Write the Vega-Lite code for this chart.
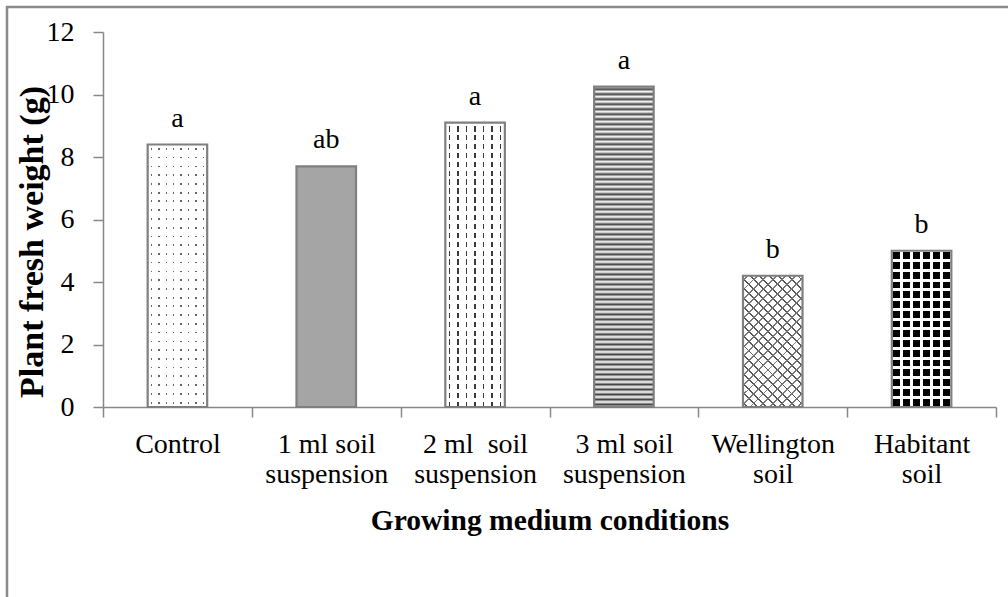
{
  "$schema": "https://vega.github.io/schema/vega-lite/v6.json",
  "width": 1001,
  "height": 590,
  "autosize": {"type": "none"},
  "padding": {"left": 7, "top": 7, "right": 0, "bottom": 0},
  "background": "white",
  "config": {
    "font": "Liberation Serif",
    "view": {"stroke": "#8a8a8a", "strokeWidth": 2.5, "strokeDash": [1001, 1591, 590]}
  },
  "data": {
    "values": [
      {"condition": "Control", "weight": 8.4, "group": "a"},
      {"condition": "1 ml soil suspension", "weight": 7.7, "group": "ab"},
      {"condition": "2 ml\u00a0 soil suspension", "weight": 9.1, "group": "a"},
      {"condition": "3 ml soil suspension", "weight": 10.25, "group": "a"},
      {"condition": "Wellington soil", "weight": 4.2, "group": "b"},
      {"condition": "Habitant soil", "weight": 5.0, "group": "b"}
    ]
  },
  "encoding": {
    "x": {
      "field": "condition",
      "type": "nominal",
      "sort": null,
      "scale": {
        "domain": ["Control", "1 ml soil suspension", "2 ml\u00a0 soil suspension", "3 ml soil suspension", "Wellington soil", "Habitant soil"],
        "range": [96, 989],
        "paddingInner": 0,
        "paddingOuter": 0
      },
      "axis": {
        "title": "Growing medium conditions",
        "titleFontSize": 29.5,
        "titleFontWeight": "bold",
        "titleColor": "#000",
        "titleY": 122,
        "titleBaseline": "alphabetic",
        "labelFontSize": 28,
        "labelColor": "#000",
        "labelPadding": 13,
        "labelLineHeight": 30,
        "labelAngle": 0,
        "labelOverlap": false,
        "labelLimit": 400,
        "labelExpr": "datum.label == 'Control' ? datum.label : [slice(datum.label, 0, lastindexof(datum.label, ' ')), slice(datum.label, lastindexof(datum.label, ' ') + 1)]",
        "tickBand": "extent",
        "tickSize": 10,
        "tickColor": "#888",
        "tickWidth": 1.5,
        "domainColor": "#888",
        "domainWidth": 1.5,
        "offset": -190,
        "grid": false
      }
    },
    "y": {
      "field": "weight",
      "type": "quantitative",
      "scale": {"domain": [0, 12], "range": [400, 25], "nice": false, "zero": true},
      "axis": {
        "title": "Plant fresh weight (g)",
        "titleFontSize": 34,
        "titleFontWeight": "bold",
        "titleColor": "#000",
        "titleX": -71,
        "titleY": 234.5,
        "titleBaseline": "middle",
        "values": [0, 2, 4, 6, 8, 10, 12],
        "labelFontSize": 28,
        "labelColor": "#000",
        "labelPadding": 19,
        "tickSize": 10,
        "tickColor": "#888",
        "tickWidth": 1.5,
        "domainColor": "#888",
        "domainWidth": 1.5,
        "offset": -96,
        "grid": false
      }
    }
  },
  "layer": [
    {
      "transform": [{"filter": "datum.condition === 'Control'"}],
      "mark": {"type": "bar", "width": {"band": 0.4}, "fill": {"gradient": "linear", "x1": 0, "y1": 0, "x2": 1, "y2": 0, "stops": [
        {"offset": 0, "color": "#fff"},
        {"offset": 0.05, "color": "#fff"}, {"offset": 0.05, "color": "#666"}, {"offset": 0.075, "color": "#666"}, {"offset": 0.075, "color": "#fff"},
        {"offset": 0.175, "color": "#fff"}, {"offset": 0.175, "color": "#666"}, {"offset": 0.2, "color": "#666"}, {"offset": 0.2, "color": "#fff"},
        {"offset": 0.3, "color": "#fff"}, {"offset": 0.3, "color": "#666"}, {"offset": 0.325, "color": "#666"}, {"offset": 0.325, "color": "#fff"},
        {"offset": 0.425, "color": "#fff"}, {"offset": 0.425, "color": "#666"}, {"offset": 0.45, "color": "#666"}, {"offset": 0.45, "color": "#fff"},
        {"offset": 0.55, "color": "#fff"}, {"offset": 0.55, "color": "#666"}, {"offset": 0.575, "color": "#666"}, {"offset": 0.575, "color": "#fff"},
        {"offset": 0.675, "color": "#fff"}, {"offset": 0.675, "color": "#666"}, {"offset": 0.7, "color": "#666"}, {"offset": 0.7, "color": "#fff"},
        {"offset": 0.8, "color": "#fff"}, {"offset": 0.8, "color": "#666"}, {"offset": 0.825, "color": "#666"}, {"offset": 0.825, "color": "#fff"},
        {"offset": 0.925, "color": "#fff"}, {"offset": 0.925, "color": "#666"}, {"offset": 0.95, "color": "#666"}, {"offset": 0.95, "color": "#fff"},
        {"offset": 1, "color": "#fff"}
      ]}}
    },
    {
      "transform": [{"filter": "datum.condition === 'Control'"}],
      "mark": {"type": "bar", "width": {"band": 0.4}, "fill": {"gradient": "linear", "x1": 0, "y1": 0, "x2": 0, "y2": 1, "stops": [
        {"offset": 0, "color": "#fff"},
        {"offset": 0.01333, "color": "#fff"}, {"offset": 0.01333, "color": "#fff0"}, {"offset": 0.02, "color": "#fff0"}, {"offset": 0.02, "color": "#fff"},
        {"offset": 0.04667, "color": "#fff"}, {"offset": 0.04667, "color": "#fff0"}, {"offset": 0.05333, "color": "#fff0"}, {"offset": 0.05333, "color": "#fff"},
        {"offset": 0.08, "color": "#fff"}, {"offset": 0.08, "color": "#fff0"}, {"offset": 0.08667, "color": "#fff0"}, {"offset": 0.08667, "color": "#fff"},
        {"offset": 0.11333, "color": "#fff"}, {"offset": 0.11333, "color": "#fff0"}, {"offset": 0.12, "color": "#fff0"}, {"offset": 0.12, "color": "#fff"},
        {"offset": 0.14667, "color": "#fff"}, {"offset": 0.14667, "color": "#fff0"}, {"offset": 0.15333, "color": "#fff0"}, {"offset": 0.15333, "color": "#fff"},
        {"offset": 0.18, "color": "#fff"}, {"offset": 0.18, "color": "#fff0"}, {"offset": 0.18667, "color": "#fff0"}, {"offset": 0.18667, "color": "#fff"},
        {"offset": 0.21333, "color": "#fff"}, {"offset": 0.21333, "color": "#fff0"}, {"offset": 0.22, "color": "#fff0"}, {"offset": 0.22, "color": "#fff"},
        {"offset": 0.24667, "color": "#fff"}, {"offset": 0.24667, "color": "#fff0"}, {"offset": 0.25333, "color": "#fff0"}, {"offset": 0.25333, "color": "#fff"},
        {"offset": 0.28, "color": "#fff"}, {"offset": 0.28, "color": "#fff0"}, {"offset": 0.28667, "color": "#fff0"}, {"offset": 0.28667, "color": "#fff"},
        {"offset": 0.31333, "color": "#fff"}, {"offset": 0.31333, "color": "#fff0"}, {"offset": 0.32, "color": "#fff0"}, {"offset": 0.32, "color": "#fff"},
        {"offset": 0.34667, "color": "#fff"}, {"offset": 0.34667, "color": "#fff0"}, {"offset": 0.35333, "color": "#fff0"}, {"offset": 0.35333, "color": "#fff"},
        {"offset": 0.38, "color": "#fff"}, {"offset": 0.38, "color": "#fff0"}, {"offset": 0.38667, "color": "#fff0"}, {"offset": 0.38667, "color": "#fff"},
        {"offset": 0.41333, "color": "#fff"}, {"offset": 0.41333, "color": "#fff0"}, {"offset": 0.42, "color": "#fff0"}, {"offset": 0.42, "color": "#fff"},
        {"offset": 0.44667, "color": "#fff"}, {"offset": 0.44667, "color": "#fff0"}, {"offset": 0.45333, "color": "#fff0"}, {"offset": 0.45333, "color": "#fff"},
        {"offset": 0.48, "color": "#fff"}, {"offset": 0.48, "color": "#fff0"}, {"offset": 0.48667, "color": "#fff0"}, {"offset": 0.48667, "color": "#fff"},
        {"offset": 0.51333, "color": "#fff"}, {"offset": 0.51333, "color": "#fff0"}, {"offset": 0.52, "color": "#fff0"}, {"offset": 0.52, "color": "#fff"},
        {"offset": 0.54667, "color": "#fff"}, {"offset": 0.54667, "color": "#fff0"}, {"offset": 0.55333, "color": "#fff0"}, {"offset": 0.55333, "color": "#fff"},
        {"offset": 0.58, "color": "#fff"}, {"offset": 0.58, "color": "#fff0"}, {"offset": 0.58667, "color": "#fff0"}, {"offset": 0.58667, "color": "#fff"},
        {"offset": 0.61333, "color": "#fff"}, {"offset": 0.61333, "color": "#fff0"}, {"offset": 0.62, "color": "#fff0"}, {"offset": 0.62, "color": "#fff"},
        {"offset": 0.64667, "color": "#fff"}, {"offset": 0.64667, "color": "#fff0"}, {"offset": 0.65333, "color": "#fff0"}, {"offset": 0.65333, "color": "#fff"},
        {"offset": 0.68, "color": "#fff"}, {"offset": 0.68, "color": "#fff0"}, {"offset": 0.68667, "color": "#fff0"}, {"offset": 0.68667, "color": "#fff"},
        {"offset": 0.71333, "color": "#fff"}, {"offset": 0.71333, "color": "#fff0"}, {"offset": 0.72, "color": "#fff0"}, {"offset": 0.72, "color": "#fff"},
        {"offset": 0.74667, "color": "#fff"}, {"offset": 0.74667, "color": "#fff0"}, {"offset": 0.75333, "color": "#fff0"}, {"offset": 0.75333, "color": "#fff"},
        {"offset": 0.78, "color": "#fff"}, {"offset": 0.78, "color": "#fff0"}, {"offset": 0.78667, "color": "#fff0"}, {"offset": 0.78667, "color": "#fff"},
        {"offset": 0.81333, "color": "#fff"}, {"offset": 0.81333, "color": "#fff0"}, {"offset": 0.82, "color": "#fff0"}, {"offset": 0.82, "color": "#fff"},
        {"offset": 0.84667, "color": "#fff"}, {"offset": 0.84667, "color": "#fff0"}, {"offset": 0.85333, "color": "#fff0"}, {"offset": 0.85333, "color": "#fff"},
        {"offset": 0.88, "color": "#fff"}, {"offset": 0.88, "color": "#fff0"}, {"offset": 0.88667, "color": "#fff0"}, {"offset": 0.88667, "color": "#fff"},
        {"offset": 0.91333, "color": "#fff"}, {"offset": 0.91333, "color": "#fff0"}, {"offset": 0.92, "color": "#fff0"}, {"offset": 0.92, "color": "#fff"},
        {"offset": 0.94667, "color": "#fff"}, {"offset": 0.94667, "color": "#fff0"}, {"offset": 0.95333, "color": "#fff0"}, {"offset": 0.95333, "color": "#fff"},
        {"offset": 0.98, "color": "#fff"}, {"offset": 0.98, "color": "#fff0"}, {"offset": 0.98667, "color": "#fff0"}, {"offset": 0.98667, "color": "#fff"},
        {"offset": 1, "color": "#fff"}
      ]}}
    },
    {
      "transform": [{"filter": "datum.condition === '1 ml soil suspension'"}],
      "mark": {"type": "bar", "width": {"band": 0.4}, "fill": "#a5a5a5"}
    },
    {
      "transform": [{"filter": "indexof(datum.condition, '2 ml') === 0"}],
      "mark": {"type": "bar", "width": {"band": 0.4}, "fill": {"gradient": "linear", "x1": 0, "y1": 0, "x2": 1, "y2": 0, "stops": [
        {"offset": 0, "color": "#fff"},
        {"offset": 0.0564, "color": "#fff"}, {"offset": 0.0564, "color": "#3a3a3a"}, {"offset": 0.0864, "color": "#3a3a3a"}, {"offset": 0.0864, "color": "#fff"},
        {"offset": 0.1993, "color": "#fff"}, {"offset": 0.1993, "color": "#3a3a3a"}, {"offset": 0.2293, "color": "#3a3a3a"}, {"offset": 0.2293, "color": "#fff"},
        {"offset": 0.3421, "color": "#fff"}, {"offset": 0.3421, "color": "#3a3a3a"}, {"offset": 0.3721, "color": "#3a3a3a"}, {"offset": 0.3721, "color": "#fff"},
        {"offset": 0.485, "color": "#fff"}, {"offset": 0.485, "color": "#3a3a3a"}, {"offset": 0.515, "color": "#3a3a3a"}, {"offset": 0.515, "color": "#fff"},
        {"offset": 0.6279, "color": "#fff"}, {"offset": 0.6279, "color": "#3a3a3a"}, {"offset": 0.6579, "color": "#3a3a3a"}, {"offset": 0.6579, "color": "#fff"},
        {"offset": 0.7707, "color": "#fff"}, {"offset": 0.7707, "color": "#3a3a3a"}, {"offset": 0.8007, "color": "#3a3a3a"}, {"offset": 0.8007, "color": "#fff"},
        {"offset": 0.9136, "color": "#fff"}, {"offset": 0.9136, "color": "#3a3a3a"}, {"offset": 0.9436, "color": "#3a3a3a"}, {"offset": 0.9436, "color": "#fff"},
        {"offset": 1, "color": "#fff"}
      ]}}
    },
    {
      "transform": [{"filter": "indexof(datum.condition, '2 ml') === 0"}],
      "mark": {"type": "bar", "width": {"band": 0.4}, "fill": {"gradient": "linear", "x1": 0, "y1": 0, "x2": 0, "y2": 1, "stops": [
        {"offset": 0, "color": "#fff"}, {"offset": 0.0125, "color": "#fff"}, {"offset": 0.0125, "color": "#fff0"},
        {"offset": 0.03125, "color": "#fff0"}, {"offset": 0.03125, "color": "#fff"}, {"offset": 0.04375, "color": "#fff"}, {"offset": 0.04375, "color": "#fff0"},
        {"offset": 0.0625, "color": "#fff0"}, {"offset": 0.0625, "color": "#fff"}, {"offset": 0.075, "color": "#fff"}, {"offset": 0.075, "color": "#fff0"},
        {"offset": 0.09375, "color": "#fff0"}, {"offset": 0.09375, "color": "#fff"}, {"offset": 0.10625, "color": "#fff"}, {"offset": 0.10625, "color": "#fff0"},
        {"offset": 0.125, "color": "#fff0"}, {"offset": 0.125, "color": "#fff"}, {"offset": 0.1375, "color": "#fff"}, {"offset": 0.1375, "color": "#fff0"},
        {"offset": 0.15625, "color": "#fff0"}, {"offset": 0.15625, "color": "#fff"}, {"offset": 0.16875, "color": "#fff"}, {"offset": 0.16875, "color": "#fff0"},
        {"offset": 0.1875, "color": "#fff0"}, {"offset": 0.1875, "color": "#fff"}, {"offset": 0.2, "color": "#fff"}, {"offset": 0.2, "color": "#fff0"},
        {"offset": 0.21875, "color": "#fff0"}, {"offset": 0.21875, "color": "#fff"}, {"offset": 0.23125, "color": "#fff"}, {"offset": 0.23125, "color": "#fff0"},
        {"offset": 0.25, "color": "#fff0"}, {"offset": 0.25, "color": "#fff"}, {"offset": 0.2625, "color": "#fff"}, {"offset": 0.2625, "color": "#fff0"},
        {"offset": 0.28125, "color": "#fff0"}, {"offset": 0.28125, "color": "#fff"}, {"offset": 0.29375, "color": "#fff"}, {"offset": 0.29375, "color": "#fff0"},
        {"offset": 0.3125, "color": "#fff0"}, {"offset": 0.3125, "color": "#fff"}, {"offset": 0.325, "color": "#fff"}, {"offset": 0.325, "color": "#fff0"},
        {"offset": 0.34375, "color": "#fff0"}, {"offset": 0.34375, "color": "#fff"}, {"offset": 0.35625, "color": "#fff"}, {"offset": 0.35625, "color": "#fff0"},
        {"offset": 0.375, "color": "#fff0"}, {"offset": 0.375, "color": "#fff"}, {"offset": 0.3875, "color": "#fff"}, {"offset": 0.3875, "color": "#fff0"},
        {"offset": 0.40625, "color": "#fff0"}, {"offset": 0.40625, "color": "#fff"}, {"offset": 0.41875, "color": "#fff"}, {"offset": 0.41875, "color": "#fff0"},
        {"offset": 0.4375, "color": "#fff0"}, {"offset": 0.4375, "color": "#fff"}, {"offset": 0.45, "color": "#fff"}, {"offset": 0.45, "color": "#fff0"},
        {"offset": 0.46875, "color": "#fff0"}, {"offset": 0.46875, "color": "#fff"}, {"offset": 0.48125, "color": "#fff"}, {"offset": 0.48125, "color": "#fff0"},
        {"offset": 0.5, "color": "#fff0"}, {"offset": 0.5, "color": "#fff"}, {"offset": 0.5125, "color": "#fff"}, {"offset": 0.5125, "color": "#fff0"},
        {"offset": 0.53125, "color": "#fff0"}, {"offset": 0.53125, "color": "#fff"}, {"offset": 0.54375, "color": "#fff"}, {"offset": 0.54375, "color": "#fff0"},
        {"offset": 0.5625, "color": "#fff0"}, {"offset": 0.5625, "color": "#fff"}, {"offset": 0.575, "color": "#fff"}, {"offset": 0.575, "color": "#fff0"},
        {"offset": 0.59375, "color": "#fff0"}, {"offset": 0.59375, "color": "#fff"}, {"offset": 0.60625, "color": "#fff"}, {"offset": 0.60625, "color": "#fff0"},
        {"offset": 0.625, "color": "#fff0"}, {"offset": 0.625, "color": "#fff"}, {"offset": 0.6375, "color": "#fff"}, {"offset": 0.6375, "color": "#fff0"},
        {"offset": 0.65625, "color": "#fff0"}, {"offset": 0.65625, "color": "#fff"}, {"offset": 0.66875, "color": "#fff"}, {"offset": 0.66875, "color": "#fff0"},
        {"offset": 0.6875, "color": "#fff0"}, {"offset": 0.6875, "color": "#fff"}, {"offset": 0.7, "color": "#fff"}, {"offset": 0.7, "color": "#fff0"},
        {"offset": 0.71875, "color": "#fff0"}, {"offset": 0.71875, "color": "#fff"}, {"offset": 0.73125, "color": "#fff"}, {"offset": 0.73125, "color": "#fff0"},
        {"offset": 0.75, "color": "#fff0"}, {"offset": 0.75, "color": "#fff"}, {"offset": 0.7625, "color": "#fff"}, {"offset": 0.7625, "color": "#fff0"},
        {"offset": 0.78125, "color": "#fff0"}, {"offset": 0.78125, "color": "#fff"}, {"offset": 0.79375, "color": "#fff"}, {"offset": 0.79375, "color": "#fff0"},
        {"offset": 0.8125, "color": "#fff0"}, {"offset": 0.8125, "color": "#fff"}, {"offset": 0.825, "color": "#fff"}, {"offset": 0.825, "color": "#fff0"},
        {"offset": 0.84375, "color": "#fff0"}, {"offset": 0.84375, "color": "#fff"}, {"offset": 0.85625, "color": "#fff"}, {"offset": 0.85625, "color": "#fff0"},
        {"offset": 0.875, "color": "#fff0"}, {"offset": 0.875, "color": "#fff"}, {"offset": 0.8875, "color": "#fff"}, {"offset": 0.8875, "color": "#fff0"},
        {"offset": 0.90625, "color": "#fff0"}, {"offset": 0.90625, "color": "#fff"}, {"offset": 0.91875, "color": "#fff"}, {"offset": 0.91875, "color": "#fff0"},
        {"offset": 0.9375, "color": "#fff0"}, {"offset": 0.9375, "color": "#fff"}, {"offset": 0.95, "color": "#fff"}, {"offset": 0.95, "color": "#fff0"},
        {"offset": 0.96875, "color": "#fff0"}, {"offset": 0.96875, "color": "#fff"}, {"offset": 0.98125, "color": "#fff"}, {"offset": 0.98125, "color": "#fff0"},
        {"offset": 1, "color": "#fff0"}
      ]}}
    },
    {
      "transform": [{"filter": "datum.condition === '3 ml soil suspension'"}],
      "mark": {"type": "bar", "width": {"band": 0.4}, "fill": {"gradient": "linear", "x1": 0, "y1": 0, "x2": 0, "y2": 1, "stops": [
        {"offset": 0, "color": "#fff"}, {"offset": 0.0078, "color": "#444"}, {"offset": 0.0156, "color": "#fff"}, {"offset": 0.0234, "color": "#444"},
        {"offset": 0.0313, "color": "#fff"}, {"offset": 0.0391, "color": "#444"}, {"offset": 0.0469, "color": "#fff"}, {"offset": 0.0547, "color": "#444"},
        {"offset": 0.0625, "color": "#fff"}, {"offset": 0.0703, "color": "#444"}, {"offset": 0.0781, "color": "#fff"}, {"offset": 0.0859, "color": "#444"},
        {"offset": 0.0938, "color": "#fff"}, {"offset": 0.1016, "color": "#444"}, {"offset": 0.1094, "color": "#fff"}, {"offset": 0.1172, "color": "#444"},
        {"offset": 0.125, "color": "#fff"}, {"offset": 0.1328, "color": "#444"}, {"offset": 0.1406, "color": "#fff"}, {"offset": 0.1484, "color": "#444"},
        {"offset": 0.1563, "color": "#fff"}, {"offset": 0.1641, "color": "#444"}, {"offset": 0.1719, "color": "#fff"}, {"offset": 0.1797, "color": "#444"},
        {"offset": 0.1875, "color": "#fff"}, {"offset": 0.1953, "color": "#444"}, {"offset": 0.2031, "color": "#fff"}, {"offset": 0.2109, "color": "#444"},
        {"offset": 0.2188, "color": "#fff"}, {"offset": 0.2266, "color": "#444"}, {"offset": 0.2344, "color": "#fff"}, {"offset": 0.2422, "color": "#444"},
        {"offset": 0.25, "color": "#fff"}, {"offset": 0.2578, "color": "#444"}, {"offset": 0.2656, "color": "#fff"}, {"offset": 0.2734, "color": "#444"},
        {"offset": 0.2813, "color": "#fff"}, {"offset": 0.2891, "color": "#444"}, {"offset": 0.2969, "color": "#fff"}, {"offset": 0.3047, "color": "#444"},
        {"offset": 0.3125, "color": "#fff"}, {"offset": 0.3203, "color": "#444"}, {"offset": 0.3281, "color": "#fff"}, {"offset": 0.3359, "color": "#444"},
        {"offset": 0.3438, "color": "#fff"}, {"offset": 0.3516, "color": "#444"}, {"offset": 0.3594, "color": "#fff"}, {"offset": 0.3672, "color": "#444"},
        {"offset": 0.375, "color": "#fff"}, {"offset": 0.3828, "color": "#444"}, {"offset": 0.3906, "color": "#fff"}, {"offset": 0.3984, "color": "#444"},
        {"offset": 0.4063, "color": "#fff"}, {"offset": 0.4141, "color": "#444"}, {"offset": 0.4219, "color": "#fff"}, {"offset": 0.4297, "color": "#444"},
        {"offset": 0.4375, "color": "#fff"}, {"offset": 0.4453, "color": "#444"}, {"offset": 0.4531, "color": "#fff"}, {"offset": 0.4609, "color": "#444"},
        {"offset": 0.4688, "color": "#fff"}, {"offset": 0.4766, "color": "#444"}, {"offset": 0.4844, "color": "#fff"}, {"offset": 0.4922, "color": "#444"},
        {"offset": 0.5, "color": "#fff"}, {"offset": 0.5078, "color": "#444"}, {"offset": 0.5156, "color": "#fff"}, {"offset": 0.5234, "color": "#444"},
        {"offset": 0.5313, "color": "#fff"}, {"offset": 0.5391, "color": "#444"}, {"offset": 0.5469, "color": "#fff"}, {"offset": 0.5547, "color": "#444"},
        {"offset": 0.5625, "color": "#fff"}, {"offset": 0.5703, "color": "#444"}, {"offset": 0.5781, "color": "#fff"}, {"offset": 0.5859, "color": "#444"},
        {"offset": 0.5938, "color": "#fff"}, {"offset": 0.6016, "color": "#444"}, {"offset": 0.6094, "color": "#fff"}, {"offset": 0.6172, "color": "#444"},
        {"offset": 0.625, "color": "#fff"}, {"offset": 0.6328, "color": "#444"}, {"offset": 0.6406, "color": "#fff"}, {"offset": 0.6484, "color": "#444"},
        {"offset": 0.6563, "color": "#fff"}, {"offset": 0.6641, "color": "#444"}, {"offset": 0.6719, "color": "#fff"}, {"offset": 0.6797, "color": "#444"},
        {"offset": 0.6875, "color": "#fff"}, {"offset": 0.6953, "color": "#444"}, {"offset": 0.7031, "color": "#fff"}, {"offset": 0.7109, "color": "#444"},
        {"offset": 0.7188, "color": "#fff"}, {"offset": 0.7266, "color": "#444"}, {"offset": 0.7344, "color": "#fff"}, {"offset": 0.7422, "color": "#444"},
        {"offset": 0.75, "color": "#fff"}, {"offset": 0.7578, "color": "#444"}, {"offset": 0.7656, "color": "#fff"}, {"offset": 0.7734, "color": "#444"},
        {"offset": 0.7813, "color": "#fff"}, {"offset": 0.7891, "color": "#444"}, {"offset": 0.7969, "color": "#fff"}, {"offset": 0.8047, "color": "#444"},
        {"offset": 0.8125, "color": "#fff"}, {"offset": 0.8203, "color": "#444"}, {"offset": 0.8281, "color": "#fff"}, {"offset": 0.8359, "color": "#444"},
        {"offset": 0.8438, "color": "#fff"}, {"offset": 0.8516, "color": "#444"}, {"offset": 0.8594, "color": "#fff"}, {"offset": 0.8672, "color": "#444"},
        {"offset": 0.875, "color": "#fff"}, {"offset": 0.8828, "color": "#444"}, {"offset": 0.8906, "color": "#fff"}, {"offset": 0.8984, "color": "#444"},
        {"offset": 0.9063, "color": "#fff"}, {"offset": 0.9141, "color": "#444"}, {"offset": 0.9219, "color": "#fff"}, {"offset": 0.9297, "color": "#444"},
        {"offset": 0.9375, "color": "#fff"}, {"offset": 0.9453, "color": "#444"}, {"offset": 0.9531, "color": "#fff"}, {"offset": 0.9609, "color": "#444"},
        {"offset": 0.9688, "color": "#fff"}, {"offset": 0.9766, "color": "#444"}, {"offset": 0.9844, "color": "#fff"}, {"offset": 0.9922, "color": "#444"},
        {"offset": 1, "color": "#fff"}
      ]}}
    },
    {
      "transform": [{"filter": "datum.condition === 'Wellington soil'"}],
      "mark": {"type": "bar", "width": {"band": 0.4}, "fill": {"gradient": "linear", "x1": 1, "y1": 0, "x2": 0.4535, "y2": 1.2056, "stops": [
        {"offset": 0, "color": "#fff"},
        {"offset": 0.02, "color": "#fff"}, {"offset": 0.02, "color": "#555"}, {"offset": 0.03, "color": "#555"}, {"offset": 0.03, "color": "#fff"},
        {"offset": 0.07, "color": "#fff"}, {"offset": 0.07, "color": "#555"}, {"offset": 0.08, "color": "#555"}, {"offset": 0.08, "color": "#fff"},
        {"offset": 0.12, "color": "#fff"}, {"offset": 0.12, "color": "#555"}, {"offset": 0.13, "color": "#555"}, {"offset": 0.13, "color": "#fff"},
        {"offset": 0.17, "color": "#fff"}, {"offset": 0.17, "color": "#555"}, {"offset": 0.18, "color": "#555"}, {"offset": 0.18, "color": "#fff"},
        {"offset": 0.22, "color": "#fff"}, {"offset": 0.22, "color": "#555"}, {"offset": 0.23, "color": "#555"}, {"offset": 0.23, "color": "#fff"},
        {"offset": 0.27, "color": "#fff"}, {"offset": 0.27, "color": "#555"}, {"offset": 0.28, "color": "#555"}, {"offset": 0.28, "color": "#fff"},
        {"offset": 0.32, "color": "#fff"}, {"offset": 0.32, "color": "#555"}, {"offset": 0.33, "color": "#555"}, {"offset": 0.33, "color": "#fff"},
        {"offset": 0.37, "color": "#fff"}, {"offset": 0.37, "color": "#555"}, {"offset": 0.38, "color": "#555"}, {"offset": 0.38, "color": "#fff"},
        {"offset": 0.42, "color": "#fff"}, {"offset": 0.42, "color": "#555"}, {"offset": 0.43, "color": "#555"}, {"offset": 0.43, "color": "#fff"},
        {"offset": 0.47, "color": "#fff"}, {"offset": 0.47, "color": "#555"}, {"offset": 0.48, "color": "#555"}, {"offset": 0.48, "color": "#fff"},
        {"offset": 0.52, "color": "#fff"}, {"offset": 0.52, "color": "#555"}, {"offset": 0.53, "color": "#555"}, {"offset": 0.53, "color": "#fff"},
        {"offset": 0.57, "color": "#fff"}, {"offset": 0.57, "color": "#555"}, {"offset": 0.58, "color": "#555"}, {"offset": 0.58, "color": "#fff"},
        {"offset": 0.62, "color": "#fff"}, {"offset": 0.62, "color": "#555"}, {"offset": 0.63, "color": "#555"}, {"offset": 0.63, "color": "#fff"},
        {"offset": 0.67, "color": "#fff"}, {"offset": 0.67, "color": "#555"}, {"offset": 0.68, "color": "#555"}, {"offset": 0.68, "color": "#fff"},
        {"offset": 0.72, "color": "#fff"}, {"offset": 0.72, "color": "#555"}, {"offset": 0.73, "color": "#555"}, {"offset": 0.73, "color": "#fff"},
        {"offset": 0.77, "color": "#fff"}, {"offset": 0.77, "color": "#555"}, {"offset": 0.78, "color": "#555"}, {"offset": 0.78, "color": "#fff"},
        {"offset": 0.82, "color": "#fff"}, {"offset": 0.82, "color": "#555"}, {"offset": 0.83, "color": "#555"}, {"offset": 0.83, "color": "#fff"},
        {"offset": 0.87, "color": "#fff"}, {"offset": 0.87, "color": "#555"}, {"offset": 0.88, "color": "#555"}, {"offset": 0.88, "color": "#fff"},
        {"offset": 0.92, "color": "#fff"}, {"offset": 0.92, "color": "#555"}, {"offset": 0.93, "color": "#555"}, {"offset": 0.93, "color": "#fff"},
        {"offset": 0.97, "color": "#fff"}, {"offset": 0.97, "color": "#555"}, {"offset": 0.98, "color": "#555"}, {"offset": 0.98, "color": "#fff"},
        {"offset": 1, "color": "#fff"}
      ]}}
    },
    {
      "transform": [{"filter": "datum.condition === 'Wellington soil'"}],
      "mark": {"type": "bar", "width": {"band": 0.4}, "fill": {"gradient": "linear", "x1": 0, "y1": 0, "x2": 0.5465, "y2": 1.2056, "stops": [
        {"offset": 0, "color": "#fff0"},
        {"offset": 0.02, "color": "#fff0"}, {"offset": 0.02, "color": "#777"}, {"offset": 0.03, "color": "#777"}, {"offset": 0.03, "color": "#fff0"},
        {"offset": 0.07, "color": "#fff0"}, {"offset": 0.07, "color": "#777"}, {"offset": 0.08, "color": "#777"}, {"offset": 0.08, "color": "#fff0"},
        {"offset": 0.12, "color": "#fff0"}, {"offset": 0.12, "color": "#777"}, {"offset": 0.13, "color": "#777"}, {"offset": 0.13, "color": "#fff0"},
        {"offset": 0.17, "color": "#fff0"}, {"offset": 0.17, "color": "#777"}, {"offset": 0.18, "color": "#777"}, {"offset": 0.18, "color": "#fff0"},
        {"offset": 0.22, "color": "#fff0"}, {"offset": 0.22, "color": "#777"}, {"offset": 0.23, "color": "#777"}, {"offset": 0.23, "color": "#fff0"},
        {"offset": 0.27, "color": "#fff0"}, {"offset": 0.27, "color": "#777"}, {"offset": 0.28, "color": "#777"}, {"offset": 0.28, "color": "#fff0"},
        {"offset": 0.32, "color": "#fff0"}, {"offset": 0.32, "color": "#777"}, {"offset": 0.33, "color": "#777"}, {"offset": 0.33, "color": "#fff0"},
        {"offset": 0.37, "color": "#fff0"}, {"offset": 0.37, "color": "#777"}, {"offset": 0.38, "color": "#777"}, {"offset": 0.38, "color": "#fff0"},
        {"offset": 0.42, "color": "#fff0"}, {"offset": 0.42, "color": "#777"}, {"offset": 0.43, "color": "#777"}, {"offset": 0.43, "color": "#fff0"},
        {"offset": 0.47, "color": "#fff0"}, {"offset": 0.47, "color": "#777"}, {"offset": 0.48, "color": "#777"}, {"offset": 0.48, "color": "#fff0"},
        {"offset": 0.52, "color": "#fff0"}, {"offset": 0.52, "color": "#777"}, {"offset": 0.53, "color": "#777"}, {"offset": 0.53, "color": "#fff0"},
        {"offset": 0.57, "color": "#fff0"}, {"offset": 0.57, "color": "#777"}, {"offset": 0.58, "color": "#777"}, {"offset": 0.58, "color": "#fff0"},
        {"offset": 0.62, "color": "#fff0"}, {"offset": 0.62, "color": "#777"}, {"offset": 0.63, "color": "#777"}, {"offset": 0.63, "color": "#fff0"},
        {"offset": 0.67, "color": "#fff0"}, {"offset": 0.67, "color": "#777"}, {"offset": 0.68, "color": "#777"}, {"offset": 0.68, "color": "#fff0"},
        {"offset": 0.72, "color": "#fff0"}, {"offset": 0.72, "color": "#777"}, {"offset": 0.73, "color": "#777"}, {"offset": 0.73, "color": "#fff0"},
        {"offset": 0.77, "color": "#fff0"}, {"offset": 0.77, "color": "#777"}, {"offset": 0.78, "color": "#777"}, {"offset": 0.78, "color": "#fff0"},
        {"offset": 0.82, "color": "#fff0"}, {"offset": 0.82, "color": "#777"}, {"offset": 0.83, "color": "#777"}, {"offset": 0.83, "color": "#fff0"},
        {"offset": 0.87, "color": "#fff0"}, {"offset": 0.87, "color": "#777"}, {"offset": 0.88, "color": "#777"}, {"offset": 0.88, "color": "#fff0"},
        {"offset": 0.92, "color": "#fff0"}, {"offset": 0.92, "color": "#777"}, {"offset": 0.93, "color": "#777"}, {"offset": 0.93, "color": "#fff0"},
        {"offset": 0.97, "color": "#fff0"}, {"offset": 0.97, "color": "#777"}, {"offset": 0.98, "color": "#777"}, {"offset": 0.98, "color": "#fff0"},
        {"offset": 1, "color": "#fff0"}
      ]}}
    },
    {
      "transform": [{"filter": "datum.condition === 'Habitant soil'"}],
      "mark": {"type": "bar", "width": {"band": 0.4}, "fill": "#000"}
    },
    {
      "transform": [{"filter": "datum.condition === 'Habitant soil'"}],
      "mark": {"type": "bar", "width": {"band": 0.4}, "fill": {"gradient": "linear", "x1": 0, "y1": 0, "x2": 1, "y2": 0, "stops": [
        {"offset": 0, "color": "#fff"}, {"offset": 0.025, "color": "#fff"}, {"offset": 0.025, "color": "#fff0"},
        {"offset": 0.1417, "color": "#fff0"}, {"offset": 0.1417, "color": "#fff"}, {"offset": 0.1917, "color": "#fff"}, {"offset": 0.1917, "color": "#fff0"},
        {"offset": 0.3083, "color": "#fff0"}, {"offset": 0.3083, "color": "#fff"}, {"offset": 0.3583, "color": "#fff"}, {"offset": 0.3583, "color": "#fff0"},
        {"offset": 0.475, "color": "#fff0"}, {"offset": 0.475, "color": "#fff"}, {"offset": 0.525, "color": "#fff"}, {"offset": 0.525, "color": "#fff0"},
        {"offset": 0.6417, "color": "#fff0"}, {"offset": 0.6417, "color": "#fff"}, {"offset": 0.6917, "color": "#fff"}, {"offset": 0.6917, "color": "#fff0"},
        {"offset": 0.8083, "color": "#fff0"}, {"offset": 0.8083, "color": "#fff"}, {"offset": 0.8583, "color": "#fff"}, {"offset": 0.8583, "color": "#fff0"},
        {"offset": 0.975, "color": "#fff0"}, {"offset": 0.975, "color": "#fff"}, {"offset": 1, "color": "#fff"}
      ]}}
    },
    {
      "transform": [{"filter": "datum.condition === 'Habitant soil'"}],
      "mark": {"type": "bar", "width": {"band": 0.4}, "fill": {"gradient": "linear", "x1": 0, "y1": 0, "x2": 0, "y2": 1, "stops": [
        {"offset": 0, "color": "#fff"}, {"offset": 0.0096, "color": "#fff"}, {"offset": 0.0096, "color": "#fff0"},
        {"offset": 0.0529, "color": "#fff0"}, {"offset": 0.0529, "color": "#fff"}, {"offset": 0.0721, "color": "#fff"}, {"offset": 0.0721, "color": "#fff0"},
        {"offset": 0.1154, "color": "#fff0"}, {"offset": 0.1154, "color": "#fff"}, {"offset": 0.1346, "color": "#fff"}, {"offset": 0.1346, "color": "#fff0"},
        {"offset": 0.1779, "color": "#fff0"}, {"offset": 0.1779, "color": "#fff"}, {"offset": 0.1971, "color": "#fff"}, {"offset": 0.1971, "color": "#fff0"},
        {"offset": 0.2404, "color": "#fff0"}, {"offset": 0.2404, "color": "#fff"}, {"offset": 0.2596, "color": "#fff"}, {"offset": 0.2596, "color": "#fff0"},
        {"offset": 0.3029, "color": "#fff0"}, {"offset": 0.3029, "color": "#fff"}, {"offset": 0.3221, "color": "#fff"}, {"offset": 0.3221, "color": "#fff0"},
        {"offset": 0.3654, "color": "#fff0"}, {"offset": 0.3654, "color": "#fff"}, {"offset": 0.3846, "color": "#fff"}, {"offset": 0.3846, "color": "#fff0"},
        {"offset": 0.4279, "color": "#fff0"}, {"offset": 0.4279, "color": "#fff"}, {"offset": 0.4471, "color": "#fff"}, {"offset": 0.4471, "color": "#fff0"},
        {"offset": 0.4904, "color": "#fff0"}, {"offset": 0.4904, "color": "#fff"}, {"offset": 0.5096, "color": "#fff"}, {"offset": 0.5096, "color": "#fff0"},
        {"offset": 0.5529, "color": "#fff0"}, {"offset": 0.5529, "color": "#fff"}, {"offset": 0.5721, "color": "#fff"}, {"offset": 0.5721, "color": "#fff0"},
        {"offset": 0.6154, "color": "#fff0"}, {"offset": 0.6154, "color": "#fff"}, {"offset": 0.6346, "color": "#fff"}, {"offset": 0.6346, "color": "#fff0"},
        {"offset": 0.6779, "color": "#fff0"}, {"offset": 0.6779, "color": "#fff"}, {"offset": 0.6971, "color": "#fff"}, {"offset": 0.6971, "color": "#fff0"},
        {"offset": 0.7404, "color": "#fff0"}, {"offset": 0.7404, "color": "#fff"}, {"offset": 0.7596, "color": "#fff"}, {"offset": 0.7596, "color": "#fff0"},
        {"offset": 0.8029, "color": "#fff0"}, {"offset": 0.8029, "color": "#fff"}, {"offset": 0.8221, "color": "#fff"}, {"offset": 0.8221, "color": "#fff0"},
        {"offset": 0.8654, "color": "#fff0"}, {"offset": 0.8654, "color": "#fff"}, {"offset": 0.8846, "color": "#fff"}, {"offset": 0.8846, "color": "#fff0"},
        {"offset": 0.9279, "color": "#fff0"}, {"offset": 0.9279, "color": "#fff"}, {"offset": 0.9471, "color": "#fff"}, {"offset": 0.9471, "color": "#fff0"},
        {"offset": 0.9904, "color": "#fff0"}, {"offset": 0.9904, "color": "#fff"}, {"offset": 1, "color": "#fff"}
      ]}}
    },
    {
      "mark": {"type": "bar", "width": {"band": 0.4}, "fill": "transparent", "stroke": "#7f7f7f", "strokeWidth": 2.2}
    },
    {
      "mark": {"type": "text", "baseline": "alphabetic", "dy": -18, "fontSize": 28, "color": "#000"},
      "encoding": {"text": {"field": "group"}}
    }
  ]
}
